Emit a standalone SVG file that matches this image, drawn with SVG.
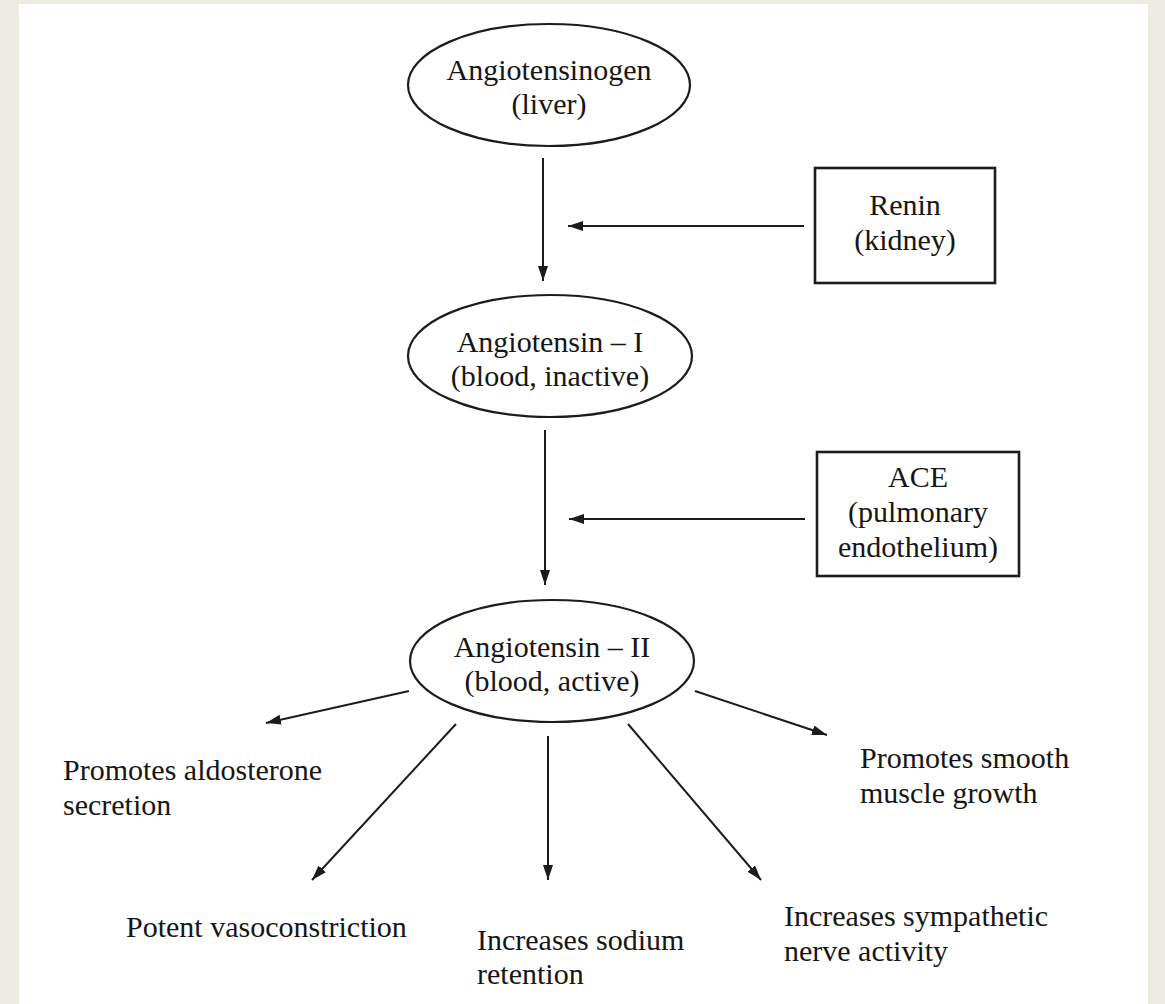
<svg xmlns="http://www.w3.org/2000/svg" width="1165" height="1004" viewBox="0 0 1165 1004">
<defs>
<style>
.bg{fill:#eeebe3}
.paper{fill:#ffffff}
.node{fill:none;stroke:#1c1c1c;stroke-width:2.2}
.box{fill:none;stroke:#1c1c1c;stroke-width:2.6}
.t{font-family:"Liberation Serif","Times New Roman",serif;font-size:30px;fill:#161616}
.c{text-anchor:middle}
.edge{stroke:#1c1c1c;stroke-width:2;fill:none;marker-end:url(#ah)}
</style>
<marker id="ah" markerUnits="userSpaceOnUse" markerWidth="16" markerHeight="12" refX="15" refY="5" orient="auto">
<path d="M0,0 L15,5 L0,10 z" fill="#1c1c1c"/>
</marker>
</defs>
<rect class="bg" x="0" y="0" width="1165" height="1004"/>
<rect class="paper" x="19" y="4" width="1129" height="1000"/>

<g id="connectors">
<line class="edge" x1="543" y1="158" x2="543" y2="281"/>
<line class="edge" x1="804" y1="226" x2="568" y2="226"/>
<line class="edge" x1="545" y1="430" x2="545" y2="585"/>
<line class="edge" x1="805" y1="519" x2="569" y2="519"/>
<line class="edge" x1="409" y1="691" x2="266" y2="723"/>
<line class="edge" x1="456" y1="724" x2="312" y2="880"/>
<line class="edge" x1="548" y1="736" x2="548" y2="880"/>
<line class="edge" x1="628" y1="724" x2="761" y2="880"/>
<line class="edge" x1="695" y1="691" x2="827" y2="735"/>
</g>

<g id="angiotensinogen">
<ellipse class="node" cx="549" cy="85" rx="141" ry="61"/>
<text class="t c" x="549" y="80">Angiotensinogen</text>
<text class="t c" x="549" y="114">(liver)</text>
</g>

<g id="renin">
<rect class="box" x="815" y="168" width="180" height="115"/>
<text class="t c" x="905" y="215">Renin</text>
<text class="t c" x="905" y="250">(kidney)</text>
</g>

<g id="angiotensin1">
<ellipse class="node" cx="550" cy="356" rx="142" ry="61"/>
<text class="t c" x="550" y="352">Angiotensin – I</text>
<text class="t c" x="550" y="386">(blood, inactive)</text>
</g>

<g id="ace">
<rect class="box" x="817" y="452" width="202" height="124"/>
<text class="t c" x="918" y="487">ACE</text>
<text class="t c" x="918" y="522">(pulmonary</text>
<text class="t c" x="918" y="557">endothelium)</text>
</g>

<g id="angiotensin2">
<ellipse class="node" cx="552" cy="661" rx="142" ry="61"/>
<text class="t c" x="552" y="657">Angiotensin – II</text>
<text class="t c" x="552" y="691">(blood, active)</text>
</g>

<g id="aldosterone">
<text class="t" x="63" y="780">Promotes aldosterone</text>
<text class="t" x="63" y="815">secretion</text>
</g>

<g id="smooth-muscle">
<text class="t" x="860" y="768">Promotes smooth</text>
<text class="t" x="860" y="803">muscle growth</text>
</g>

<g id="vasoconstriction">
<text class="t" x="126" y="937">Potent vasoconstriction</text>
</g>

<g id="sodium">
<text class="t" x="477" y="950">Increases sodium</text>
<text class="t" x="477" y="984">retention</text>
</g>

<g id="sympathetic">
<text class="t" x="784" y="926">Increases sympathetic</text>
<text class="t" x="784" y="961">nerve activity</text>
</g>
</svg>
